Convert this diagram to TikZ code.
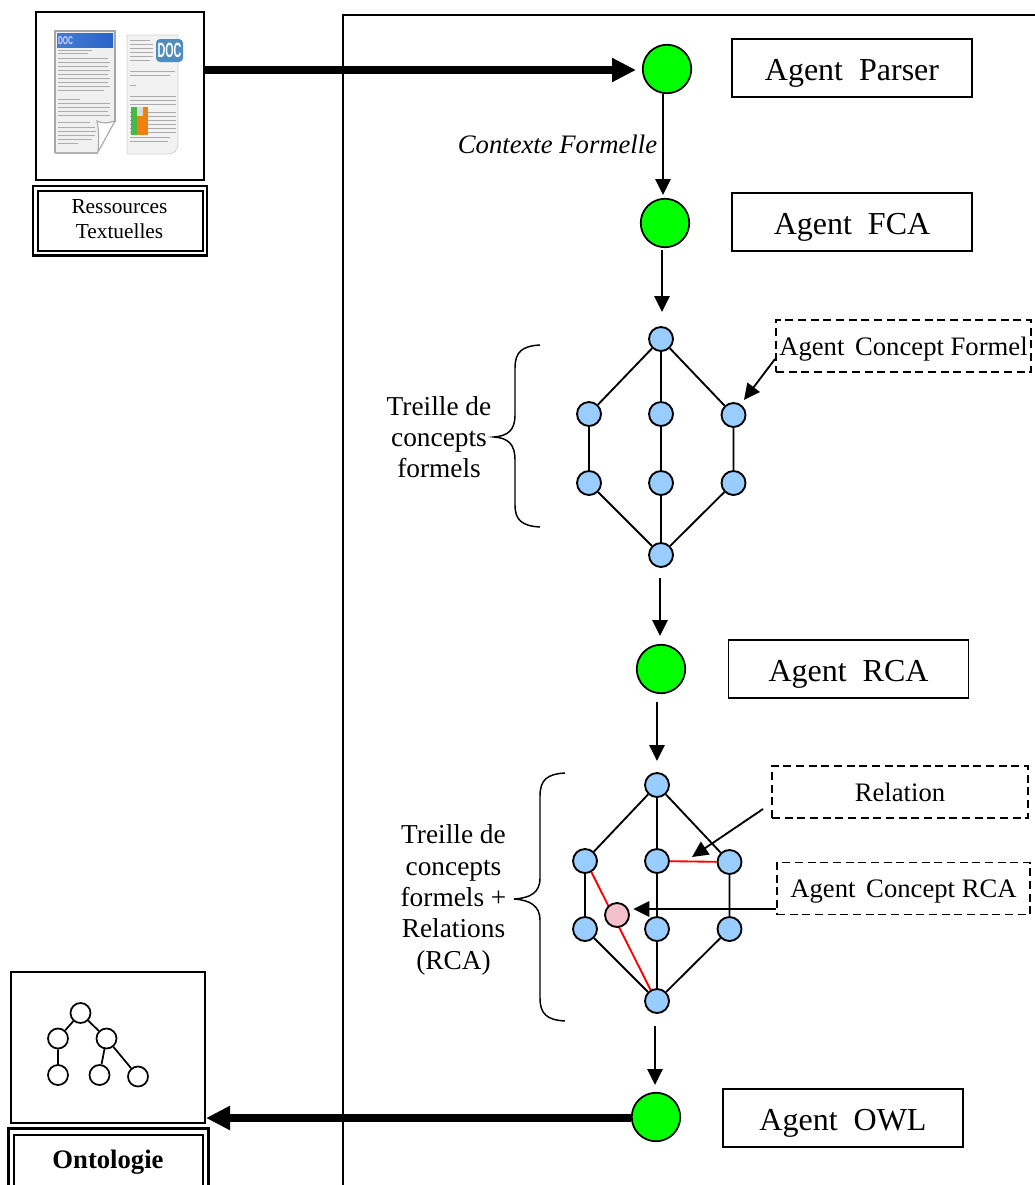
\documentclass[tikz,border=0pt]{standalone}
\usepackage{fontspec}
\setmainfont{Liberation Serif}
\newfontfamily\docfont{Liberation Sans}
\usetikzlibrary{arrows.meta,decorations.pathreplacing,calc}
\definecolor{agentgreen}{RGB}{0,255,0}
\definecolor{cblue}{RGB}{153,204,255}
\definecolor{cpink}{RGB}{244,192,204}
\definecolor{docblue}{RGB}{40,100,200}
\definecolor{docbadge}{RGB}{80,140,190}
\tikzset{
 agent/.style={circle,draw=black,fill=agentgreen,line width=1.3pt,minimum size=48.5pt*.75,inner sep=0pt},
 cn/.style={circle,draw=black,fill=cblue,line width=1.4pt,minimum size=24pt*.75,inner sep=0pt},
 pk/.style={circle,draw=black,fill=cpink,line width=1.4pt,minimum size=24pt*.75,inner sep=0pt},
 tn/.style={circle,draw=black,fill=white,line width=1.3pt,minimum size=20pt*.75,inner sep=0pt},
 abox/.style={draw=black,line width=1.3pt,fill=white,minimum width=240pt*.75,minimum height=58pt*.75,inner sep=0pt,text height=19pt,text depth=0pt,font=\fontsize{24}{28}\selectfont},
 dbox/.style={draw=black,dash pattern=on 6pt off 3.5pt,line width=1.3pt,fill=white,minimum height=52pt*.75,inner sep=0pt,text height=13.5pt,text depth=0pt,font=\fontsize{20}{24}\selectfont},
 imgbox/.style={draw=black,line width=1.5pt,fill=white,inner sep=0pt},
 lat/.style={line width=1.4pt},
 flow/.style={line width=1.4pt,-{Triangle[length=12pt,width=11.5pt]}},
 thick arrow/.style={line width=6pt,-{Triangle[length=18pt,width=17pt]}},
 rel/.style={red,line width=1.4pt},
 lab/.style={align=center,inner sep=0pt,font=\fontsize{20.5}{23.5}\selectfont},
 brace/.style={draw=black,line width=1.1pt},
 fake/.style={gray!65,line width=.55pt},
}
\begin{document}
\begin{tikzpicture}[x=.75pt,y=-.75pt]
\useasboundingbox (0,0) rectangle (1035,1185);
\clip (0,0) rectangle (1035,1185);
\fill[white] (0,0) rectangle (1035,1185);
% main frame
\draw[line width=1.4pt] (343,1190) -- (343,15) -- (1040,15);
% resources box
\node[imgbox,minimum width=168pt*.75,minimum height=168pt*.75] (res) at (119.5,96) {};
\draw[line width=2pt] (33,186) rectangle (207,255.5);
\draw[line width=1.5pt,fill=white] (37.5,191) rectangle (202.5,250.5);
\node[lab,font=\fontsize{16}{18.5}\selectfont] (restxt) at (119.5,219) {Ressources\\Textuelles};
% doc 1
\fill[gray!12] (55,31) -- (115,31) -- (115,122) -- (98,153) -- (55,153) -- cycle;
\draw[gray!70,line width=.8pt] (55,153) -- (55,31) -- (115,31) -- (115,122);
\draw[gray!60,line width=1.4pt] (55,153) -- (98,153);
\shade[left color=docblue!85!white,right color=docblue] (57,33) rectangle (113,47);
\node[text=white!85!blue,inner sep=0pt] (doca) at (65.5,40.5) {\docfont\bfseries\fontsize{8.4}{9}\selectfont\scalebox{.6}[1]{DOC}};
\foreach \y/\e in {50/92,53/88,58/108,62/110,66/108,70/110,74/108,78/110,82/108,86/110,90/104,99/80,103/110,107/110,111/108,115/110,122/90,127/95,131/96,135/95,139/92,143/78}
  \draw[fake] (58,\y) -- (\e,\y);
\fill[white] (97,121) .. controls (104,124) and (108,123) .. (115,121) -- (98,152) .. controls (99,142) and (99,130) .. (97,121) -- cycle;
\draw[gray!70,line width=.8pt] (97,121) .. controls (104,124) and (108,123) .. (115,121) -- (98,152) .. controls (99,142) and (99,130) .. (97,121) -- cycle;
% doc 2
\fill[gray!10,draw=gray!35,line width=.6pt] (127,35) -- (178,35) -- (178,143) .. controls (178,150) and (174,154) .. (168,154) -- (127,154) -- cycle;
\foreach \y/\e in {40/150,44/153,48/153,52/153,56/153,60/150,71/175,75/170,85/136,96/176,100/176,104/176,112/176,116/176,120/176,124/176,128/176,132/176,137/170,141/168}
  \draw[fake] (130,\y) -- (\e,\y);
\fill[orange!80!brown] (131,107) rectangle (148,135);
\fill[green!45!gray] (131,107) rectangle (137,135);
\fill[gray!30] (137,107) rectangle (143,116);
\fill[docbadge,rounded corners=3pt] (156,39) rectangle (183,62);
\node[text=white,inner sep=0pt] (docb) at (169.5,50.5) {\docfont\bfseries\fontsize{15.5}{16}\selectfont\scalebox{.52}[1]{DOC}};
% ontology box
\node[imgbox,minimum width=194pt*.75,minimum height=151pt*.75] (ont) at (108,1047.5) {};
\draw[line width=2pt] (8.5,1128.5) rectangle (208.5,1195);
\draw[line width=1.5pt,fill=white] (13.5,1135) rectangle (203,1195);
\node[inner sep=0pt,font=\bfseries\fontsize{20}{24}\selectfont] (onttxt) at (108,1162) {Ontologie};
\node[tn] (t0) at (80.5,1013) {};
\node[tn] (t1) at (58,1038.5) {};
\node[tn] (t2) at (106.5,1038.5) {};
\node[tn] (t3) at (58,1075) {};
\node[tn] (t4) at (99.5,1075) {};
\node[tn] (t5) at (138,1076.5) {};
\draw[line width=1.3pt] (t0)--(t1) (t0)--(t2) (t1)--(t3) (t2)--(t4) (t2)--(t5);
% agents
\node[agent] (a1) at (667,69) {};
\node[agent] (a2) at (665,223) {};
\node[agent] (a3) at (661,669) {};
\node[agent] (a4) at (656,1117) {};
\node[abox] (p1) at (852,68) {Agent\hspace{.5em}Parser};
\node[abox] (p2) at (852,222) {Agent\hspace{.5em}FCA};
\node[abox] (p3) at (848.5,669) {Agent\hspace{.5em}RCA};
\node[abox] (p4) at (843,1118) {Agent\hspace{.5em}OWL};
% thick arrows
\coordinate (th1) at (636,70);
\draw[thick arrow] (res.east |- th1) -- (th1);
\draw[thick arrow] (a4.west |- 0,1118) -- (ont.east |- 0,1118);
% flow arrows
\coordinate (f1a) at (663,94);
\coordinate (f1b) at (663,195);
\coordinate (f2a) at (662,250);
\coordinate (f2b) at (662,312);
\coordinate (f3a) at (660,578);
\coordinate (f3b) at (660,636);
\coordinate (f4a) at (657,702);
\coordinate (f4b) at (657,761);
\coordinate (f5a) at (655,1026);
\coordinate (f5b) at (655,1085);
\draw[flow] (f1a) -- (f1b);
\draw[flow] (f2a) -- (f2b);
\draw[flow] (f3a) -- (f3b);
\draw[flow] (f4a) -- (f4b);
\draw[flow] (f5a) -- (f5b);
\node[inner sep=0pt,font=\itshape\fontsize{20}{24}\selectfont] (cf) at (557.5,144) {Contexte Formelle};
% lattice 1
\node[cn] (l0) at (661,339) {};
\node[cn] (l1) at (589,414) {};
\node[cn] (l2) at (661,414) {};
\node[cn] (l3) at (733.5,415) {};
\node[cn] (l4) at (589,483) {};
\node[cn] (l5) at (661,483) {};
\node[cn] (l6) at (733.5,483) {};
\node[cn] (l7) at (661,555) {};
\draw[lat] (l0)--(l1) (l0)--(l2) (l0)--(l3) (l1)--(l4) (l2)--(l5) (l3)--(l6) (l4)--(l7) (l5)--(l7) (l6)--(l7);
% lattice 2
\node[cn] (m0) at (657,785) {};
\node[cn] (m1) at (585,861) {};
\node[cn] (m2) at (657,861) {};
\node[cn] (m3) at (729.5,862) {};
\node[cn] (m4) at (585,929) {};
\node[cn] (m5) at (657,929) {};
\node[cn] (m6) at (729.5,929) {};
\node[cn] (m7) at (657,1001) {};
\draw[lat] (m0)--(m1) (m0)--(m2) (m0)--(m3) (m1)--(m4) (m2)--(m5) (m3)--(m6) (m4)--(m7) (m5)--(m7) (m6)--(m7);
\draw[rel] (m2)--(m3) (m1.-60)--(m7.120);
\node[pk] (rc) at (617,915) {};
% dashed boxes
\node[dbox,minimum width=255pt*.75] (d1) at (903.5,346) {Agent\hspace{.4em}Concept Formel};
\node[dbox,minimum width=256pt*.75] (d2) at (900,792) {Relation};
\node[dbox,minimum width=253pt*.75] (d3) at (903.5,888.5) {Agent\hspace{.4em}Concept RCA};
\coordinate (e1) at (775,359);
\coordinate (e1b) at (744,400);
\coordinate (e2) at (763,809);
\coordinate (e2b) at (692,857);
\coordinate (e3) at (776,909);
\draw[flow] (e1) -- (e1b);
\draw[flow] (e2) -- (e2b);
\draw[flow] (e3) -- ([xshift=2.5pt]rc.east |- e3);
% braces
\draw[brace] (540,345) .. controls (522,346) and (515,352) .. (515,368) -- (515,415) .. controls (515,430) and (508,436) .. (494,437) .. controls (508,438) and (515,444) .. (515,460) -- (515,505) .. controls (515,520) and (522,526) .. (540,527);
\draw[brace] (565,773) .. controls (547,774) and (540,780) .. (540,796) -- (540,878) .. controls (540,893) and (530,898) .. (514,899) .. controls (530,900) and (540,906) .. (540,920) -- (540,998) .. controls (540,1014) and (547,1020) .. (565,1021);
\node[lab] (tl1) at (439,437) {Treille de\\concepts\\formels};
\node[lab] (tl2) at (453.5,900) {Treille de\\concepts\\formels +\\Relations\\(RCA)};
\end{tikzpicture}
\end{document}
